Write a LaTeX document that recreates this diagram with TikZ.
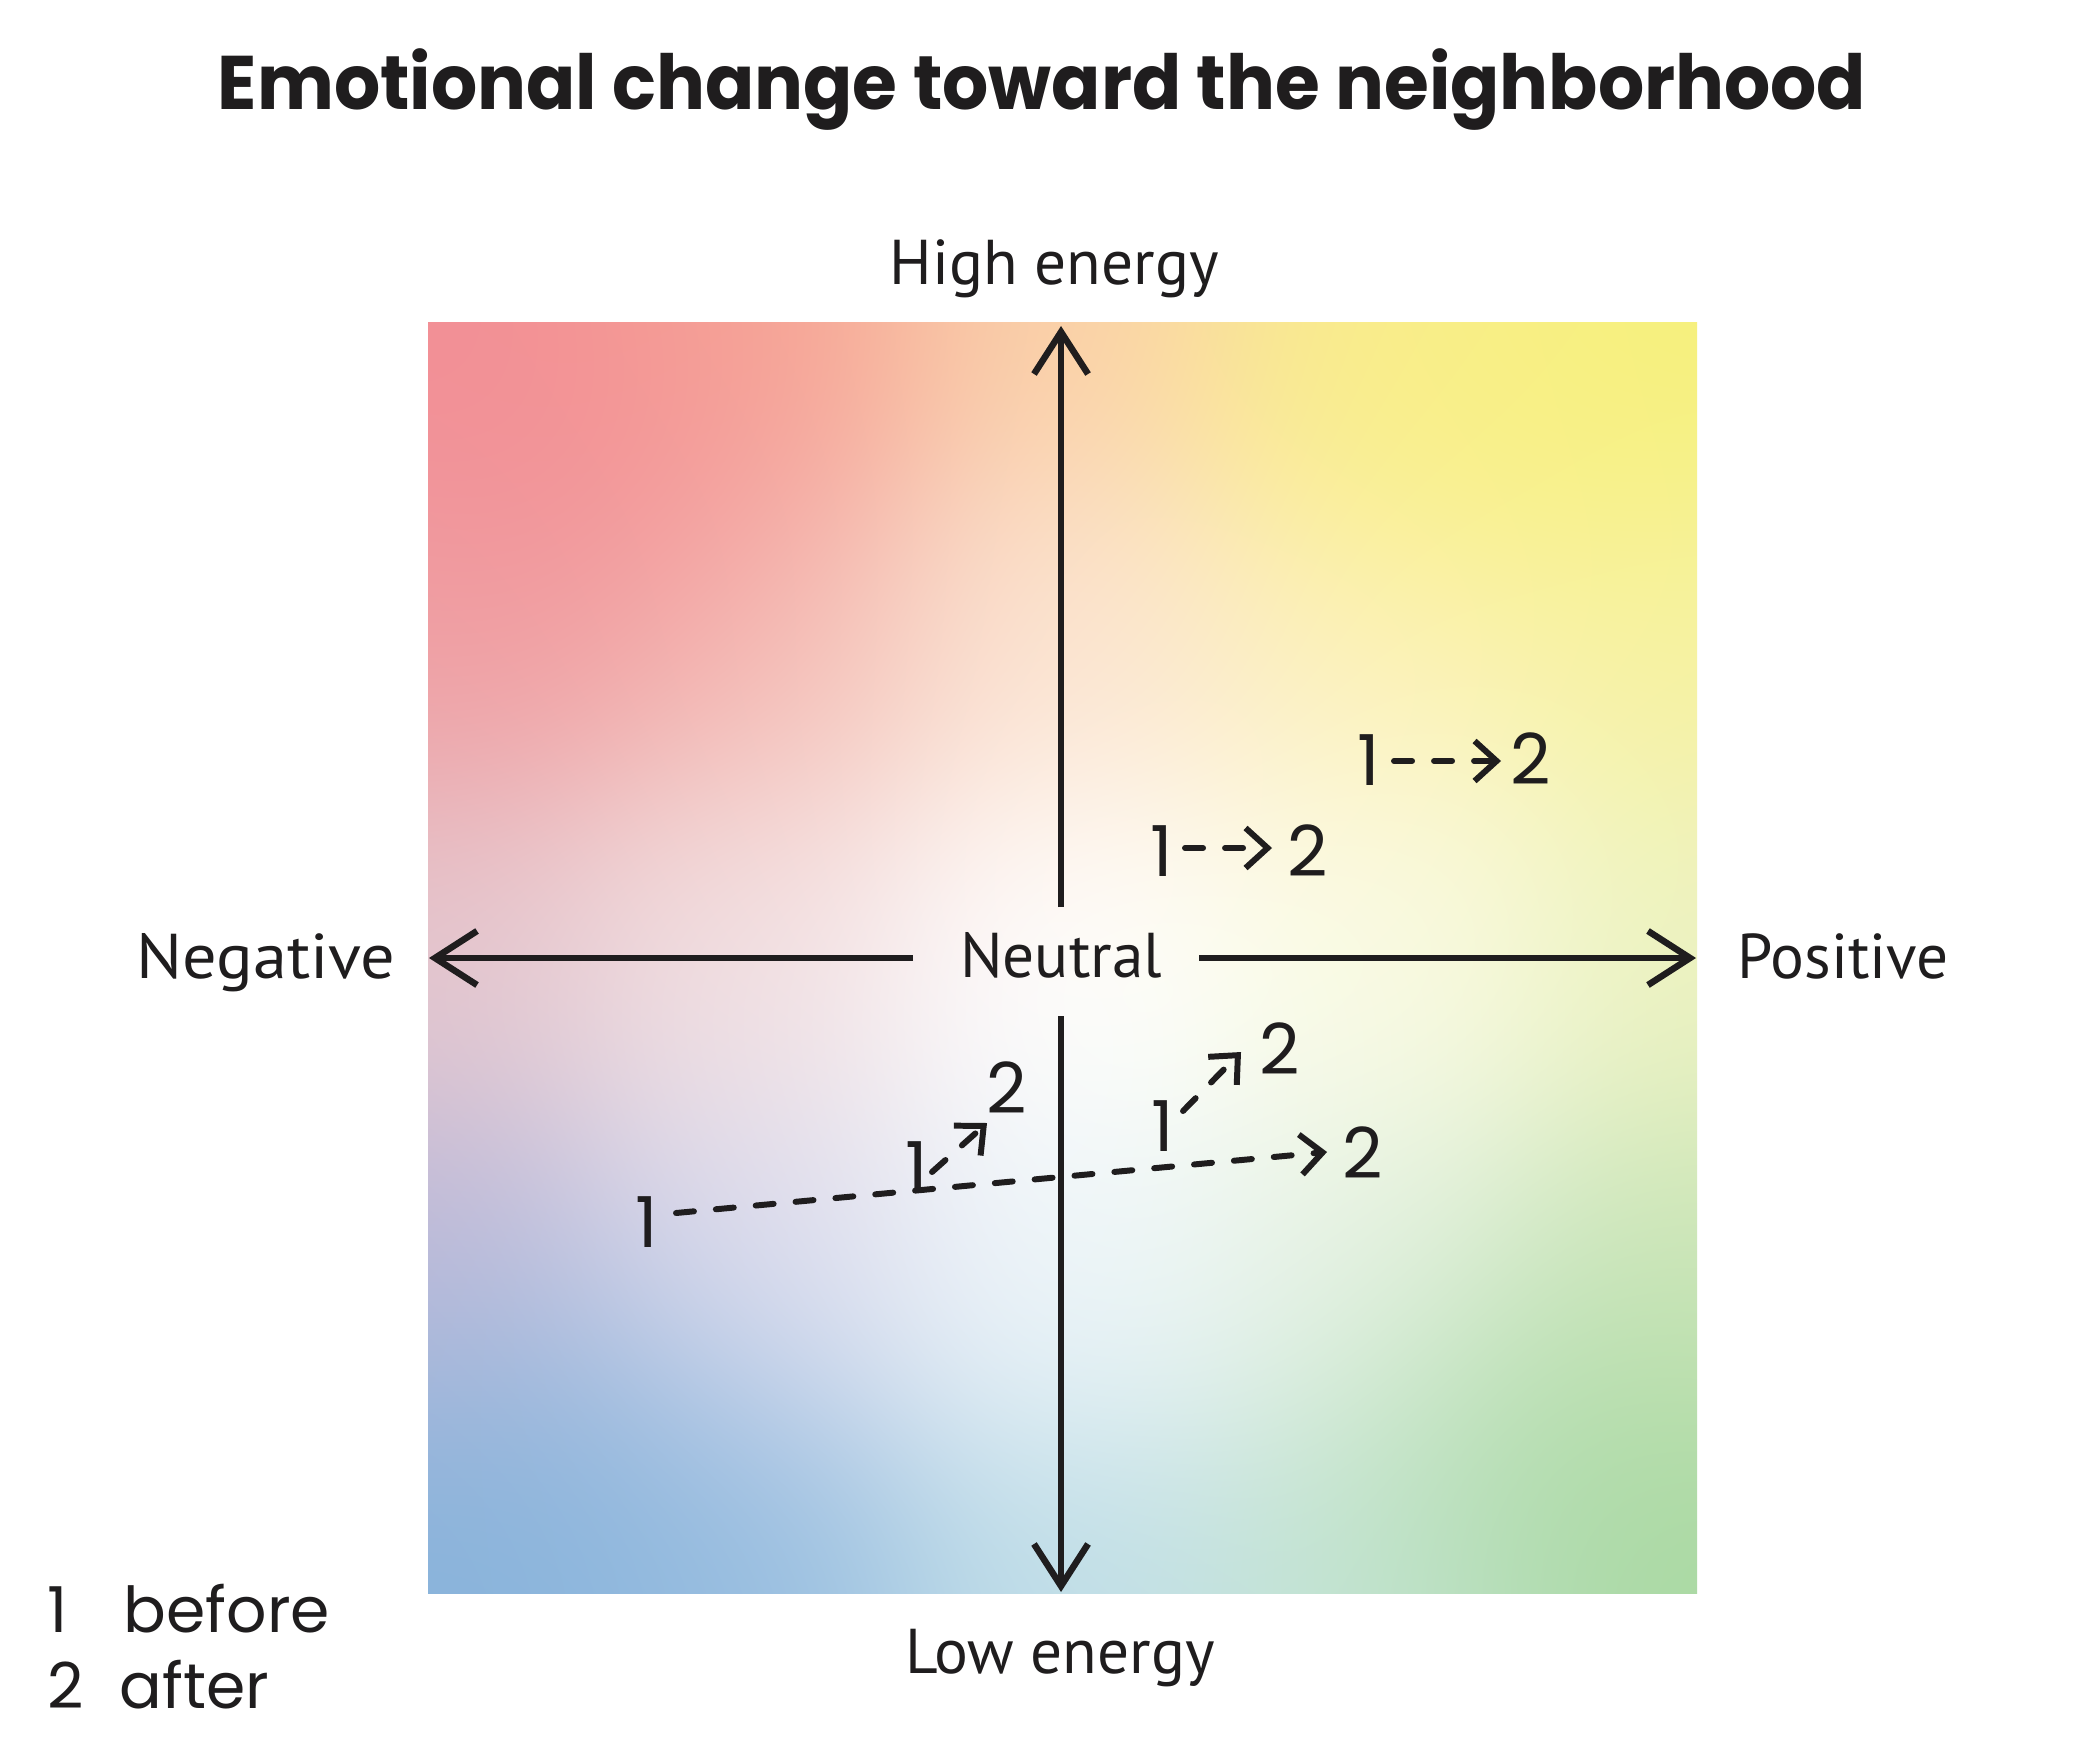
\documentclass[tikz,border=0pt]{standalone}
\usepackage{fontspec}
\setmainfont{PT Sans}
\newfontfamily\geofont{Poppins}
\usetikzlibrary{arrows.meta}
\definecolor{ink}{HTML}{1F1D1E}
% one colour sample of the background: u v r g b  (u right, v up, 0..1; r g b 0..255)
\def\gp#1#2#3#4#5{5 index #1 sub dup mul 5 index #2 sub dup mul add -40 mul 2.71828 exch exp
 dup #5 mul 2 index add 3 -1 roll pop 5 1 roll
 dup #4 mul 2 index add 3 -1 roll pop 5 1 roll
 dup #3 mul 2 index add 3 -1 roll pop 5 1 roll
 add 4 1 roll }
\pgfdeclarefunctionalshading{emo}{\pgfpoint{0bp}{0bp}}{\pgfpoint{100bp}{100bp}}{}{
25 sub 50 div dup 0 lt {pop 0} if dup 1 gt {pop 1} if
exch 25 sub 50 div dup 0 lt {pop 0} if dup 1 gt {pop 1} if exch
0 0 0 0
\gp{0}{1}{242}{142}{150}
\gp{0.25}{1}{246}{164}{148}
\gp{0.5}{1}{250}{208}{168}
\gp{0.75}{1}{249}{234}{144}
\gp{1}{1}{245}{240}{122}
\gp{0}{0.75}{238}{162}{166}
\gp{0.25}{0.75}{244}{194}{186}
\gp{0.5}{0.75}{251}{228}{210}
\gp{0.75}{0.75}{252}{242}{192}
\gp{1}{0.75}{246}{242}{160}
\gp{0}{0.5}{228}{198}{206}
\gp{0.25}{0.5}{242}{224}{226}
\gp{0.5}{0.5}{255}{255}{255}
\gp{0.75}{0.5}{250}{251}{228}
\gp{1}{0.5}{236}{242}{192}
\gp{0}{0.25}{188}{184}{216}
\gp{0.25}{0.25}{220}{220}{238}
\gp{0.5}{0.25}{238}{246}{250}
\gp{0.75}{0.25}{230}{242}{228}
\gp{1}{0.25}{205}{230}{184}
\gp{0}{0}{134}{178}{218}
\gp{0.25}{0}{152}{190}{224}
\gp{0.5}{0}{192}{222}{232}
\gp{0.75}{0}{196}{228}{212}
\gp{1}{0}{168}{216}{160}
\gp{0.13}{0.87}{242}{136}{144}
\gp{0.82}{0.93}{248}{242}{122}
\gp{0.1}{0.07}{136}{180}{220}
\gp{0.9}{0.1}{168}{216}{162}
3 index div 255 div 4 1 roll
2 index div 255 div 4 1 roll
1 index div 255 div exch pop
3 1 roll
5 -2 roll pop pop
}
\begin{document}
\begin{tikzpicture}[x=0.01cm,y=-0.01cm,
  axis/.style={draw=ink, line width=1.85pt, -{Straight Barb[length=4.2mm,width=5.4mm]}},
  dasharr/.style={draw=ink, line width=1.7pt, line cap=round, dash pattern=on 0.18cm off 0.22cm, -{Straight Barb[length=2.2mm,width=4mm]}},
  lbl/.style={text=ink, font=\fontsize{18}{22}\selectfont, inner sep=0pt, anchor=base},
  num/.style={text=ink, font=\geofont\fontsize{20}{24}\selectfont, inner sep=0pt},
  leg/.style={text=ink, font=\geofont\fontsize{18}{22}\selectfont, inner sep=0pt, anchor=base west}]

\useasboundingbox (0,0) rectangle (2083,1743);
\fill[white] (0,0) rectangle (2083,1743);
\shade[shading=emo] (428,323) rectangle (1697,1593);

% title
\node[text=ink, font=\geofont\bfseries\fontsize{21.6}{26}\selectfont, anchor=base, inner sep=0pt] (title) at (1042,110) {\scalebox{0.956}[1]{Emotional change toward the neighborhood}};

% axis labels
\node[lbl] (high) at (1054,285) {High energy};
\node[lbl] (low) at (1060,1673) {Low energy};
\node[lbl] (neg) at (266,978) {\scalebox{1.08}[1]{Negative}};
\node[lbl] (pos) at (1843,978) {Positive};
\node[lbl] (neutral) at (1061,977) {Neutral};

% axes
\coordinate (gapN) at (1061,907);
\coordinate (gapS) at (1061,1016);
\coordinate (gapW) at (913,958);
\coordinate (gapE) at (1199,958);
\coordinate (tipN) at (1061,326);
\coordinate (tipS) at (1061,1592);
\coordinate (tipW) at (429,958);
\coordinate (tipE) at (1696,958);
\draw[axis] (gapN) -- (tipN);
\draw[axis] (gapS) -- (tipS);
\draw[axis] (gapW) -- (tipW);
\draw[axis] (gapE) -- (tipE);

% before / after pairs
\node[num] (a1) at (1369,760) {1};
\node[num] (a2) at (1531,759) {2};
\node[num] (b1) at (1162,851) {1};
\node[num] (b2) at (1308,851) {2};
\node[num] (c1) at (647,1222) {1};
\node[num] (c2) at (1363,1153) {2};
\node[num] (d1) at (917,1167) {1};
\node[num] (d2) at (1007,1088) {2};
\node[num] (e1) at (1163,1126) {1};
\node[num] (e2) at (1280,1049) {2};

\draw[dasharr] ([shift={(25,1)}]a1.center) -- ([shift={(-30,2)}]a2.center);
\draw[dasharr] ([shift={(23,-3)}]b1.center) -- ([shift={(-36,-3)}]b2.center);
\draw[dasharr] ([shift={(29,-9)}]c1.center) -- ([shift={(-36,-1)}]c2.center);
\draw[dasharr] ([shift={(15,5)}]d1.center) -- ([shift={(-20,35)}]d2.center);
\draw[dasharr] ([shift={(20,-15)}]e1.center) -- ([shift={(-39,3)}]e2.center);

% legend
\node[leg] (l1n) at (47,1632) {1};
\node[leg] (l1t) at (123,1632) {before};
\node[leg] (l2n) at (47,1708) {2};
\node[leg] (l2t) at (119,1708) {after};
\end{tikzpicture}
\end{document}
